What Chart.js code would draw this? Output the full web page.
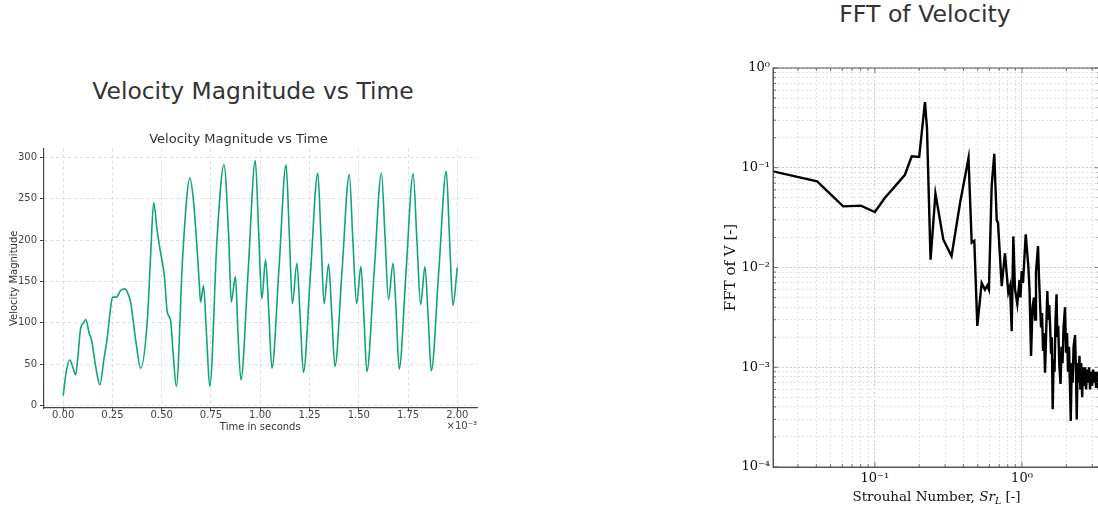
<!DOCTYPE html>
<html>
<head>
<meta charset="utf-8">
<script src="https://cdn.jsdelivr.net/npm/chart.js@4"></script>
<style>
html, body { margin: 0; padding: 0; width: 1098px; height: 510px; overflow: hidden; background: #fff; }
.heading { position: absolute; font-family: "DejaVu Sans", sans-serif; color: #333; white-space: nowrap; transform: translate(-50%, -50%); }
#velCanvas { position: absolute; left: 0; top: 0; }
#fftCanvas { position: absolute; left: 690px; top: 0; }
</style>
</head>
<body>
<div class="heading" style="left:253px; top:91px; font-size:23.4px;">Velocity Magnitude vs Time</div>
<div class="heading" style="left:925px; top:14px; font-size:23.6px;">FFT of Velocity</div>
<canvas id="velCanvas" width="500" height="450"></canvas>
<canvas id="fftCanvas" width="420" height="510"></canvas>
<script>
// time axis in units of 1e-3 s
const timeMs = [
    0.000, 0.017, 0.034, 0.048, 0.063, 0.075, 0.087, 0.103, 0.115, 0.132,
    0.144, 0.165, 0.186, 0.206, 0.224, 0.238, 0.250, 0.270, 0.291, 0.312,
    0.329, 0.342, 0.368, 0.393, 0.427, 0.444, 0.459, 0.477, 0.491, 0.514,
    0.528, 0.545, 0.558, 0.574, 0.607, 0.643, 0.660, 0.675, 0.690, 0.697,
    0.712, 0.727, 0.744, 0.781, 0.816, 0.840, 0.853, 0.874, 0.887, 0.902,
    0.938, 0.975, 0.991, 1.008, 1.027, 1.043, 1.059,
    1.095, 1.131, 1.147, 1.163, 1.186, 1.202, 1.219,
    1.255, 1.292, 1.308, 1.324, 1.347, 1.363, 1.379,
    1.415, 1.452, 1.470, 1.489, 1.511, 1.526, 1.541,
    1.578, 1.615, 1.633, 1.651, 1.674, 1.690, 1.705,
    1.740, 1.776, 1.795, 1.814, 1.836, 1.852, 1.868,
    1.906, 1.944, 1.961, 1.978, 2.000
];
const velocity = [
    12, 43, 55, 47, 37, 60, 91, 100, 104, 87,
    79, 47, 25, 55, 83, 113, 131, 131, 139, 141,
    135, 125, 79, 45, 103, 183, 245, 211, 189, 155,
    113, 103, 63, 23, 183, 275, 250, 205, 150, 125,
    145, 87, 23, 203, 291, 203, 125, 156, 87, 31,
    160, 296, 215, 129, 176, 115, 45,
    165, 291, 210, 123, 172, 110, 40,
    160, 281, 205, 123, 171, 110, 47,
    163, 279, 200, 123, 168, 108, 41,
    161, 281, 205, 128, 172, 112, 44,
    162, 280, 200, 122, 168, 108, 42,
    162, 283, 200, 121, 167
];
const timeTicks = [0, 0.25, 0.5, 0.75, 1.0, 1.25, 1.5, 1.75, 2.0];
const velocityTicks = [0, 50, 100, 150, 200, 250, 300];

// FFT spectrum
const strouhal = [
    0.0203, 0.0405, 0.0609, 0.0803, 0.100, 0.117, 0.137, 0.160, 0.178, 0.200,
    0.219, 0.226, 0.239, 0.258, 0.292, 0.332, 0.379, 0.433, 0.455, 0.474,
    0.497, 0.532, 0.560, 0.581, 0.596, 0.622, 0.648, 0.673, 0.687, 0.728,
    0.766, 0.807, 0.829, 0.851, 0.873, 0.896, 0.929, 0.962, 0.977, 0.995,
    1.016, 1.060, 1.104, 1.125, 1.152, 1.179, 1.207, 1.226, 1.245, 1.285,
    1.305, 1.326, 1.347, 1.368, 1.390, 1.411, 1.434, 1.457, 1.486, 1.510,
    1.532, 1.551, 1.575, 1.595, 1.617, 1.641, 1.664, 1.690, 1.717, 1.738,
    1.763, 1.791, 1.828, 1.857, 1.886, 1.916, 1.961, 1.992, 2.024, 2.056,
    2.088, 2.145, 2.179, 2.210, 2.241, 2.294, 2.331, 2.356, 2.390, 2.424,
    2.458, 2.493, 2.528, 2.564, 2.600, 2.642, 2.683, 2.726, 2.769, 2.813,
    2.857, 2.902, 2.948, 2.995, 3.042, 3.090, 3.139, 3.188, 3.239, 3.289,
    3.393
];
const fftMag = [
    0.092, 0.073, 0.041, 0.0417, 0.036, 0.050, 0.065, 0.085, 0.130, 0.128,
    0.454, 0.25, 0.012, 0.055, 0.019, 0.013, 0.044, 0.125, 0.0177, 0.0185,
    0.0026, 0.007, 0.0060, 0.0066, 0.0060, 0.065, 0.138, 0.030, 0.028, 0.0065,
    0.0139, 0.0056, 0.0065, 0.0023, 0.0205, 0.0061, 0.0043, 0.0075, 0.0050, 0.0092,
    0.0070, 0.0215, 0.0103, 0.0060, 0.0013, 0.0040, 0.0050, 0.0030, 0.0090, 0.0164,
    0.0080, 0.0045, 0.0025, 0.0035, 0.0015, 0.0022, 0.00088, 0.0020, 0.0058, 0.0030,
    0.0042, 0.0027, 0.0014, 0.0020, 0.00038, 0.0012, 0.0009, 0.0030, 0.0054, 0.0020,
    0.0026, 0.0011, 0.00068, 0.0016, 0.0011, 0.0025, 0.0040, 0.0014, 0.0022, 0.0009,
    0.0016, 0.00029, 0.0011, 0.0007, 0.0016, 0.0021, 0.0008, 0.00030, 0.0011, 0.0007,
    0.0013, 0.0006, 0.0011, 0.0005, 0.0010, 0.00065, 0.0010, 0.0006, 0.00095, 0.0007,
    0.0010, 0.0006, 0.0009, 0.00065, 0.00095, 0.0007, 0.0009, 0.00062, 0.0009, 0.0007,
    0.00085
];

const sup = { '-': '⁻', '0': '⁰', '1': '¹', '2': '²', '3': '³', '4': '⁴', '5': '⁵' };

function isDecade(v) {
    const l = Math.log10(v);
    return Math.abs(l - Math.round(l)) < 1e-6;
}

function decadeLabel(v) {
    if (!isDecade(v)) return '';
    const e = String(Math.round(Math.log10(v)));
    return '10' + e.split('').map(c => sup[c]).join('');
}

// 1..9 x 10^n between min and max
function logTicks(min, max) {
    const out = [];
    for (let e = Math.floor(Math.log10(min)); e <= Math.ceil(Math.log10(max)); e++) {
        for (let k = 1; k <= 9; k++) {
            const v = Number((k * Math.pow(10, e)).toPrecision(6));
            if (v >= min * 0.999 && v <= max * 1.001) out.push(v);
        }
    }
    return out;
}

// x10^-3 offset text under the time axis
const offsetLabel = {
    id: 'offsetLabel',
    afterDraw(chart) {
        const ctx = chart.ctx;
        ctx.save();
        ctx.fillStyle = '#444';
        ctx.font = '10px "DejaVu Sans"';
        ctx.textAlign = 'right';
        ctx.textBaseline = 'middle';
        ctx.fillText('×10⁻³', chart.chartArea.right, 426);
        ctx.restore();
    }
};

// boxed frame with inward ticks and the Strouhal axis title
const fftFrame = {
    id: 'fftFrame',
    afterDraw(chart) {
        const ctx = chart.ctx;
        const a = chart.chartArea;
        const xs = chart.scales.x, ys = chart.scales.y;
        ctx.save();
        ctx.strokeStyle = '#555';
        ctx.lineWidth = 1;
        ctx.strokeRect(a.left, a.top, a.right - a.left, a.bottom - a.top);
        ctx.lineWidth = 0.8;
        ctx.beginPath();
        xs.ticks.forEach(t => {
            const px = xs.getPixelForValue(t.value);
            const len = isDecade(t.value) ? 5 : 3;
            ctx.moveTo(px, a.bottom); ctx.lineTo(px, a.bottom - len);
            ctx.moveTo(px, a.top); ctx.lineTo(px, a.top + len);
        });
        ys.ticks.forEach(t => {
            const py = ys.getPixelForValue(t.value);
            const len = isDecade(t.value) ? 5 : 3;
            ctx.moveTo(a.left, py); ctx.lineTo(a.left + len, py);
            ctx.moveTo(a.right, py); ctx.lineTo(a.right - len, py);
        });
        ctx.stroke();

        const parts = [
            { t: 'Strouhal Number, ', f: '13.5px "DejaVu Serif"', dy: 0 },
            { t: 'Sr', f: 'italic 13.5px "DejaVu Serif"', dy: 0 },
            { t: 'L', f: 'italic 9.5px "DejaVu Serif"', dy: 3 },
            { t: ' [-]', f: '13.5px "DejaVu Serif"', dy: 0 }
        ];
        let total = 0;
        parts.forEach(p => { ctx.font = p.f; p.w = ctx.measureText(p.t).width; total += p.w; });
        let x = (a.left + a.right) / 2 - total / 2;
        ctx.fillStyle = '#111';
        ctx.textBaseline = 'alphabetic';
        ctx.textAlign = 'left';
        parts.forEach(p => {
            ctx.font = p.f;
            ctx.fillText(p.t, x, 501 + p.dy);
            x += p.w;
        });
        ctx.restore();
    }
};

const charts = {};

function initCharts() {
    Chart.defaults.font.family = '"DejaVu Sans"';

    charts.velocity = new Chart(document.getElementById('velCanvas'), {
        type: 'line',
        data: {
            datasets: [{
                data: timeMs.map((t, i) => ({ x: t, y: velocity[i] })),
                borderColor: '#10a37f',
                borderWidth: 1.6,
                pointRadius: 0,
                cubicInterpolationMode: 'monotone',
                fill: false
            }]
        },
        options: {
            responsive: false,
            animation: false,
            layout: { padding: { left: 0, right: 23, top: 0, bottom: 0 } },
            plugins: {
                legend: { display: false },
                tooltip: { enabled: false },
                title: {
                    display: true,
                    text: 'Velocity Magnitude vs Time',
                    color: '#333',
                    font: { size: 13, weight: 'normal' },
                    padding: { top: 132, bottom: 1 }
                }
            },
            scales: {
                x: {
                    type: 'linear',
                    min: -0.1,
                    max: 2.1,
                    afterBuildTicks: s => { s.ticks = timeTicks.map(v => ({ value: v })); },
                    afterFit: s => { s.height = 42; },
                    ticks: { callback: v => v.toFixed(2), color: '#444', font: { size: 10 }, padding: -2, maxRotation: 0, autoSkip: false },
                    grid: { color: '#dedede', tickColor: '#444', tickLength: 3.5, tickWidth: 1 },
                    border: { color: '#444', width: 1.2, dash: [3, 3] },
                    title: { display: true, text: 'Time in seconds', color: '#333', font: { size: 10 }, padding: { top: 0, bottom: 17 } }
                },
                y: {
                    min: -3,
                    max: 310.5,
                    afterBuildTicks: s => { s.ticks = velocityTicks.map(v => ({ value: v })); },
                    afterFit: s => { s.width = 43.5; },
                    ticks: { color: '#444', font: { size: 10 }, padding: 3, autoSkip: false },
                    grid: { color: '#dedede', tickColor: '#444', tickLength: 3.5, tickWidth: 1 },
                    border: { color: '#444', width: 1.2, dash: [3, 3] },
                    title: { display: true, text: 'Velocity Magnitude', color: '#333', font: { size: 10 }, padding: { top: 8, bottom: 0 } }
                }
            }
        },
        plugins: [offsetLabel]
    });

    charts.fft = new Chart(document.getElementById('fftCanvas'), {
        type: 'line',
        data: {
            datasets: [{
                data: strouhal.map((s, i) => ({ x: s, y: fftMag[i] })),
                borderColor: '#000',
                borderWidth: 2.4,
                pointRadius: 0,
                tension: 0,
                fill: false
            }]
        },
        options: {
            responsive: false,
            animation: false,
            layout: { padding: { left: 0, right: 10, top: 68, bottom: 0 } },
            plugins: { legend: { display: false }, tooltip: { enabled: false } },
            scales: {
                x: {
                    type: 'logarithmic',
                    min: 0.0203,
                    max: 3.39,
                    afterBuildTicks: s => { s.ticks = logTicks(0.0203, 3.39).map(v => ({ value: v })); },
                    afterFit: s => { s.height = 43; },
                    ticks: { callback: v => decadeLabel(v), color: '#111', font: { family: '"DejaVu Serif"', size: 13 }, padding: 4, maxRotation: 0, autoSkip: false },
                    grid: { drawTicks: false, color: c => isDecade(c.tick.value) ? '#cccccc' : '#e2e2e2' },
                    border: { color: '#555', width: 1, dash: [2, 2] }
                },
                y: {
                    type: 'logarithmic',
                    min: 1e-4,
                    max: 1,
                    afterBuildTicks: s => { s.ticks = logTicks(1e-4, 1).map(v => ({ value: v })); },
                    afterFit: s => { s.width = 83; },
                    ticks: { callback: v => decadeLabel(v), color: '#111', font: { family: '"DejaVu Serif"', size: 13 }, padding: 3, autoSkip: false },
                    grid: { drawTicks: false, color: c => isDecade(c.tick.value) ? '#cccccc' : '#e2e2e2' },
                    border: { color: '#555', width: 1, dash: [2, 2] },
                    title: { display: true, text: 'FFT of V [-]', color: '#111', font: { family: '"DejaVu Serif"', size: 15 }, padding: { top: 32, bottom: 0 } }
                }
            }
        },
        plugins: [fftFrame]
    });
}

window.onload = function() {
    initCharts();
};
</script>
</body>
</html>
